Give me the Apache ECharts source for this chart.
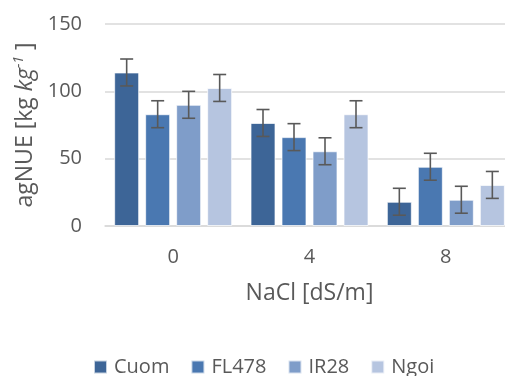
<!DOCTYPE html>
<html><head><meta charset="utf-8">
<script src="https://cdn.jsdelivr.net/npm/echarts@6/dist/echarts.min.js"></script>
<style>html,body{margin:0;padding:0;overflow:hidden;background:#fff;width:505px;height:376px}#c{width:514px;height:376px}</style>
</head><body><div id="c"></div>
<script>
var categories = ['0', '4', '8'];
var seriesNames = ['Cuom', 'FL478', 'IR28', 'Ngoi'];
var cuom = [114, 76.5, 18];
var fl478 = [83, 66, 44];
var ir28 = [90, 55.5, 19.5];
var ngoi = [102.5, 83, 30.5];
var cuomErr = [10, 10, 10];
var fl478Err = [10, 10, 10];
var ir28Err = [10, 10, 10];
var ngoiErr = [10, 10, 10];
var yTicks = [0, 50, 100, 150];

var values = [cuom, fl478, ir28, ngoi];
var errs = [cuomErr, fl478Err, ir28Err, ngoiErr];
var colors = ['#3d6597', '#4a78b1', '#7f9dc9', '#b6c5e0'];
var FONT = 'Open Sans';
var BW = 25, GAP = 6;

var chart = echarts.init(document.getElementById('c'));
var series = [];
values.forEach(function (vals, i) {
  series.push({
    name: seriesNames[i], type: 'bar', data: vals, barWidth: BW, barGap: (GAP / BW * 100) + '%',
    itemStyle: { color: colors[i], borderColor: 'rgba(255,255,255,0.7)', borderWidth: 1 },
    z: 2
  });
});
values.forEach(function (vals, i) {
  series.push({
    name: seriesNames[i] + '_err', type: 'custom',
    data: vals.map(function (v, k) { return [k, v, errs[i][k]]; }),
    z: 5, silent: true,
    renderItem: function (params, api) {
      var k = api.value(0), v = api.value(1), e = api.value(2);
      var n = values.length;
      var total = n * BW + (n - 1) * GAP;
      var c = api.coord([k, v]);
      var x = c[0] - total / 2 + i * (BW + GAP) + BW / 2;
      var yHi = api.coord([k, v + e])[1];
      var yLo = api.coord([k, v - e])[1];
      var hw = 6.5;
      var st = { stroke: '#595959', lineWidth: 1.6 };
      return { type: 'group', children: [
        { type: 'line', shape: { x1: x, y1: yHi, x2: x, y2: yLo }, style: st },
        { type: 'line', shape: { x1: x - hw, y1: yHi, x2: x + hw, y2: yHi }, style: st },
        { type: 'line', shape: { x1: x - hw, y1: yLo, x2: x + hw, y2: yLo }, style: st }
      ]};
    }
  });
});

chart.setOption({
  animation: false,
  textStyle: { fontFamily: FONT },
  grid: { left: 105, right: 0, top: 24, bottom: 150, containLabel: false },
  legend: {
    data: seriesNames, left: 88, top: 352, itemWidth: 13, itemHeight: 13, itemGap: 21,
    icon: 'rect',
    textStyle: { fontFamily: FONT, fontSize: 20, color: '#595959', padding: [0, 0, 0, 2] }
  },
  xAxis: {
    type: 'category', data: categories,
    axisLine: { lineStyle: { color: '#d9d9d9', width: 1.5 } },
    axisTick: { show: false },
    axisLabel: { fontFamily: FONT, fontSize: 20, color: '#595959', margin: 21 },
    name: 'NaCl [dS/m]', nameLocation: 'middle', nameGap: 56,
    nameTextStyle: { fontFamily: FONT, fontSize: 23, color: '#595959' }
  },
  yAxis: {
    type: 'value', min: yTicks[0], max: yTicks[yTicks.length - 1], interval: 50,
    axisLine: { show: false }, axisTick: { show: false },
    splitLine: { lineStyle: { color: '#d9d9d9', width: 1.5 } },
    axisLabel: { fontFamily: FONT, fontSize: 20, color: '#595959', margin: 23 },
    name: '{n|agNUE [kg }{i|kg}{s|-1}{n| ]}', nameLocation: 'middle', nameGap: 66, nameRotate: 90,
    nameTextStyle: {
      rich: {
        n: { fontFamily: FONT, fontSize: 23, color: '#595959' },
        i: { fontFamily: FONT, fontSize: 23, color: '#595959', fontStyle: 'italic' },
        s: { fontFamily: FONT, fontSize: 14, color: '#595959', fontStyle: 'italic', verticalAlign: 'top', padding: [0, 0, 12, 0] }
      }
    }
  },
  series: series
});
</script></body></html>
